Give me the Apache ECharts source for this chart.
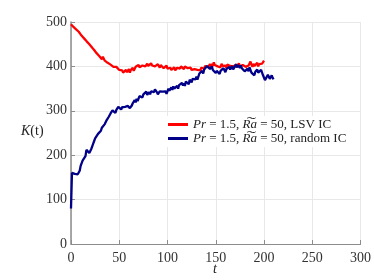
<!DOCTYPE html>
<html><head><meta charset="utf-8">
<script src="https://cdn.jsdelivr.net/npm/echarts@6/dist/echarts.min.js"></script>
<style>html,body{margin:0;padding:0;background:#fff}#c{width:374px;height:280px}</style>
</head><body><div id="c"></div>
<script>
const T_STEP = 1;
const xTicks = [0, 50, 100, 150, 200, 250, 300];
const yTicks = [0, 100, 200, 300, 400, 500];
const redName = 'LSV IC';
const blueName = 'random IC';
const redK = [
495,493,490,491,486,484,482,483,478,475,
472,470,467,468,462,459,457,458,453,450,
447,446,442,443,437,433,431,432,427,424,
421,420,416,422,418,413,411,415,408,406,
409,404,401,405,399,401,396,399,395,397,
392,395,389,391,386,389,385,392,387,390,
394,386,392,388,397,390,393,399,396,401,
403,398,401,397,402,399,404,400,403,406,
401,405,399,407,402,398,404,400,403,398,
405,401,397,403,399,401,396,400,398,402,
395,398,393,397,392,396,393,398,391,395,
397,393,399,395,400,396,398,394,400,397,
401,396,399,394,397,392,395,390,394,391,
396,392,389,394,391,397,393,399,395,401,
397,403,398,400,405,399,406,401,409,403,
399,404,400,397,403,398,406,401,404,399,
402,397,404,400,406,401,398,405,400,403,
399,404,398,402,407,400,404,398,403,401,
406,399,403,397,402,400,411,404,399,406,
401,397,403,408,400,405,409,402,406,404,
413];
const blueK = [
80,160,156,161,158,155,162,157,153,165,
176,180,188,184,190,198,212,216,210,205,
204,214,220,226,232,238,236,240,248,252,
247,255,262,260,266,270,272,279,283,286,
290,294,298,301,297,300,295,302,306,309,
306,310,303,308,312,305,309,313,308,311,
310,306,304,312,317,320,324,319,327,322,
325,333,330,336,330,337,334,340,343,336,
339,342,337,344,340,347,342,348,345,342,
337,341,344,346,341,343,347,340,344,338,
342,350,345,348,353,347,355,350,353,348,
356,350,358,354,360,363,357,362,356,366,
362,366,360,370,366,364,372,368,375,371,
377,370,374,384,380,386,390,384,393,397,
395,401,398,402,394,398,400,392,396,388,
385,390,394,386,383,390,392,388,396,393,
387,394,397,391,399,393,396,401,393,397,
400,405,398,403,399,397,402,396,399,394,
389,386,392,395,389,398,395,386,382,384,
380,388,391,393,386,382,388,392,386,380,
377,369,366,365,381,378,372,376,380,374,371];
const redData = redK.map((v, i) => [i * T_STEP, v]);
const blueData = blueK.map((v, i) => [i * T_STEP, v]);

const ff = '"Liberation Serif", "DejaVu Serif", serif';
const rich = { i: { fontStyle: 'italic', fontFamily: ff, fontSize: 13, color: '#222' } };
const chart = echarts.init(document.getElementById('c'));
chart.setOption({
  animation: false,
  backgroundColor: '#fff',
  grid: { left: 71, top: 22, right: 13, bottom: 36 },
  xAxis: {
    type: 'value', min: 0, max: 300, interval: 50,
    axisLine: { lineStyle: { color: '#8c8c8c', width: 1.2 } },
    axisTick: { inside: true, length: 4, lineStyle: { color: '#8c8c8c' } },
    axisLabel: { fontFamily: ff, fontSize: 14, color: '#333', margin: 7 },
    splitLine: { show: true, lineStyle: { color: '#e8e8e8' } }
  },
  yAxis: {
    type: 'value', min: 0, max: 500, interval: 100,
    axisLine: { show: true, lineStyle: { color: '#8c8c8c', width: 1.5 } },
    axisTick: { show: true, inside: true, length: 4, lineStyle: { color: '#8c8c8c' } },
    axisLabel: { fontFamily: ff, fontSize: 14, color: '#333', margin: 4 },
    splitLine: { show: true, lineStyle: { color: '#e8e8e8' } }
  },
  legend: {
    orient: 'vertical', left: 166, top: 116,
    backgroundColor: '#fff', padding: [2, 4, 2, 2],
    itemWidth: 20, itemHeight: 3, itemGap: 1, icon: 'rect',
    textStyle: { fontFamily: ff, fontSize: 13, color: '#222', rich: rich },
    formatter: function (n) { return '{i|Pr} = 1.5, {i|R\u0360a} = 50, ' + n; },
    data: [redName, blueName]
  },
  graphic: [
    { type: 'text', left: 21, top: 124, style: { text: '{i|K}(t)', rich: { i: { fontStyle: 'italic', fontFamily: ff, fontSize: 14, color: '#222' } }, fontFamily: ff, fontSize: 14, fill: '#222' } },
    { type: 'text', left: 213, top: 262, style: { text: 't', fontStyle: 'italic', fontFamily: ff, fontSize: 14, fill: '#222' } }
  ],
  series: [
    { name: redName, type: 'line', data: redData, showSymbol: false, symbol: 'none', color: '#ff0000', lineStyle: { color: '#ff0000', width: 2.3 } },
    { name: blueName, type: 'line', data: blueData, showSymbol: false, symbol: 'none', color: '#000088', lineStyle: { color: '#000088', width: 2.3 } }
  ]
});
</script></body></html>
